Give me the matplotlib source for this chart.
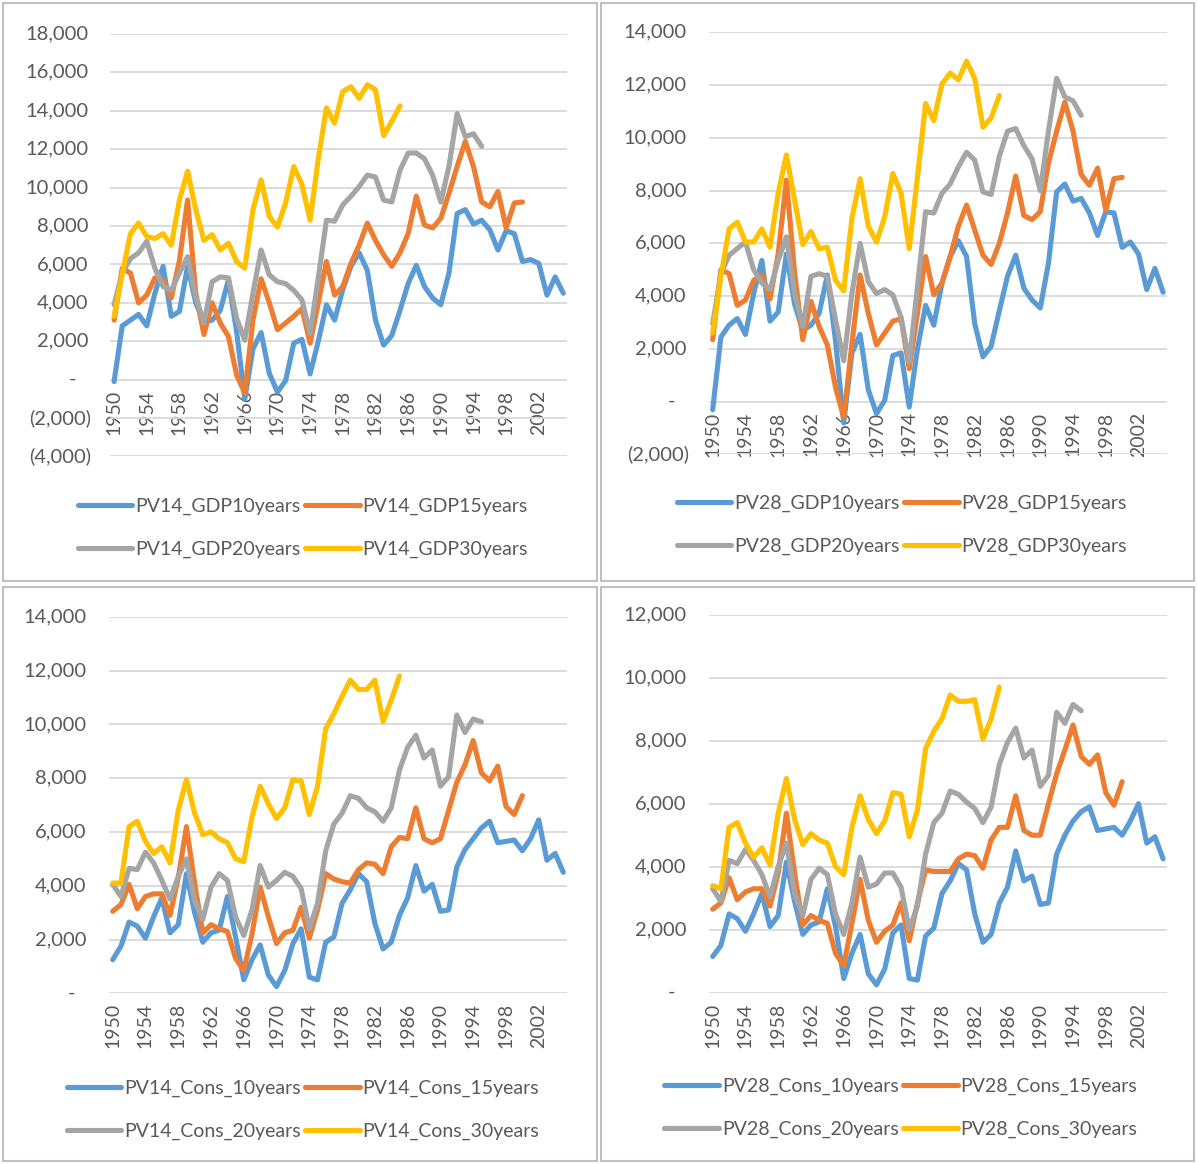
import matplotlib
matplotlib.use("Agg")
import matplotlib.pyplot as plt
import matplotlib.transforms as mtransforms
from matplotlib.patches import Rectangle

plt.rcParams['font.family'] = ['Lato', 'DejaVu Sans']

# years on the category axis
years = list(range(1950, 2006))
tick_years = list(range(1950, 2003, 4))

# ---- PV14 GDP ----
pv14_gdp_10 = [-100, 2800, 3100, 3400, 2800, 4500, 5900, 3300, 3550, 5900,
               4000, 3000, 3100, 3600, 5200, 2500, -1000, 1600, 2450, 330,
               -650, -50, 1900, 2100, 300, 2000, 3900, 3100, 4700, 5900,
               6600, 5700, 3100, 1800, 2300, 3600, 5000, 5950, 4850, 4250,
               3900, 5550, 8650, 8850, 8100, 8300, 7800, 6750, 7750, 7600,
               6150, 6250, 6050, 4400, 5350, 4500]
pv14_gdp_15 = [3100, 5800, 5550, 4000, 4400, 5300, 5200, 4250, 6200, 9350,
               4500, 2350, 4000, 2950, 2250, 250, -700, 3100, 5250, 4000,
               2600, 2950, 3300, 3700, 1900, 4000, 6150, 4400, 4850, 6050,
               7000, 8150, 7250, 6500, 5900, 6600, 7600, 9550, 8050, 7900,
               8400, 9700, 11100, 12400, 11100, 9250, 9000, 9800, 7900, 9200,
               9250]
pv14_gdp_20 = [3900, 5550, 6300, 6600, 7200, 5800, 4850, 4650, 5550, 6400,
               4300, 2950, 5100, 5350, 5300, 3200, 2050, 4500, 6750, 5450,
               5100, 5000, 4650, 4150, 2400, 5300, 8300, 8250, 9100, 9550,
               10050, 10650, 10550, 9350, 9250, 10900, 11800, 11800, 11500, 10650,
               9250, 11100, 13850, 12650, 12800, 12150]
pv14_gdp_30 = [3300, 5500, 7600, 8150, 7450, 7350, 7600, 7000, 9350, 10850,
               8850, 7250, 7550, 6750, 7100, 6150, 5800, 8850, 10400, 8500,
               7950, 9200, 11100, 10150, 8300, 11500, 14150, 13350, 15000, 15250,
               14650, 15350, 15100, 12700, 13450, 14250]

# ---- PV28 GDP ----
pv28_gdp_10 = [-300, 2450, 2900, 3150, 2550, 4100, 5350, 3050, 3400, 5600,
               3700, 2700, 2900, 3350, 4800, 2300, -800, 1850, 2550, 450,
               -450, 50, 1750, 1850, -200, 2000, 3650, 2900, 4500, 5500,
               6100, 5500, 2950, 1700, 2100, 3450, 4750, 5550, 4300, 3850,
               3550, 5250, 7950, 8250, 7600, 7700, 7150, 6300, 7200, 7150,
               5850, 6050, 5600, 4250, 5050, 4150]
pv28_gdp_15 = [2350, 5000, 4850, 3650, 3850, 4600, 4800, 3900, 5600, 8400,
               4900, 2350, 3800, 2850, 2150, 550, -600, 2200, 4800, 3350,
               2150, 2600, 3050, 3150, 1250, 3350, 5500, 4050, 4500, 5500,
               6650, 7450, 6500, 5550, 5200, 6000, 7150, 8550, 7050, 6900,
               7200, 9050, 10250, 11350, 10250, 8600, 8200, 8850, 7250, 8450,
               8500]
pv28_gdp_20 = [2950, 4850, 5550, 5800, 6050, 5000, 4500, 4250, 5350, 6250,
               4100, 2850, 4750, 4850, 4750, 3100, 1550, 4100, 6000, 4550,
               4100, 4250, 4050, 3200, 1500, 4350, 7200, 7150, 7900, 8250,
               8900, 9450, 9150, 7950, 7850, 9300, 10250, 10350, 9700, 9200,
               8000, 10250, 12250, 11550, 11400, 10850]
pv28_gdp_30 = [2600, 4750, 6550, 6800, 6050, 6050, 6550, 5850, 7900, 9350,
               7650, 5950, 6450, 5800, 5850, 4600, 4200, 6950, 8450, 6650,
               6050, 7000, 8650, 7900, 5800, 8500, 11300, 10650, 12050, 12450,
               12200, 12900, 12250, 10400, 10750, 11600]

# ---- PV14 Cons ----
pv14_cons_10 = [1250, 1750, 2650, 2500, 2050, 2850, 3550, 2250, 2550, 4450,
                3000, 1900, 2250, 2350, 3600, 2100, 500, 1250, 1800, 680,
                250, 850, 1850, 2400, 600, 500, 1900, 2100, 3350, 3850,
                4450, 4150, 2600, 1650, 1900, 2900, 3550, 4750, 3800, 4050,
                3050, 3100, 4700, 5350, 5750, 6150, 6400, 5600, 5650, 5700,
                5300, 5750, 6450, 4950, 5200, 4500]
pv14_cons_15 = [3050, 3300, 4050, 3150, 3600, 3700, 3700, 2900, 4300, 6200,
                4100, 2250, 2550, 2400, 2300, 1300, 850, 2200, 3950, 2850,
                1850, 2250, 2350, 3200, 2050, 3100, 4450, 4250, 4150, 4100,
                4600, 4850, 4800, 4450, 5450, 5800, 5750, 6900, 5750, 5600,
                5750, 6800, 7850, 8500, 9400, 8200, 7900, 8450, 6950, 6650,
                7350]
pv14_cons_20 = [4050, 3600, 4650, 4600, 5250, 4850, 4200, 3500, 4350, 5000,
                3450, 2750, 3950, 4450, 4200, 2850, 2150, 3100, 4750, 3950,
                4200, 4500, 4350, 3900, 2400, 3350, 5300, 6300, 6700, 7350,
                7250, 6900, 6750, 6400, 6900, 8300, 9150, 9600, 8750, 9050,
                7700, 8050, 10350, 9700, 10200, 10100]
pv14_cons_30 = [4100, 4100, 6200, 6400, 5650, 5200, 5450, 4850, 6800, 7950,
                6700, 5900, 6000, 5750, 5600, 5000, 4900, 6550, 7700, 7050,
                6500, 6900, 7950, 7900, 6650, 7700, 9850, 10400, 11050, 11650,
                11300, 11300, 11650, 10100, 10900, 11800]

# ---- PV28 Cons ----
pv28_cons_10 = [1150, 1500, 2500, 2350, 1950, 2500, 3150, 2100, 2450, 4150,
                2900, 1850, 2150, 2250, 3300, 2100, 450, 1250, 1850, 600,
                250, 750, 1900, 2150, 450, 400, 1800, 2050, 3150, 3550,
                4100, 3900, 2500, 1600, 1850, 2850, 3350, 4500, 3550, 3700,
                2800, 2850, 4400, 5000, 5450, 5750, 5900, 5150, 5200, 5250,
                5000, 5450, 6000, 4750, 4950, 4250]
pv28_cons_15 = [2650, 2850, 3650, 2950, 3200, 3300, 3300, 2750, 3800, 5700,
                3800, 2150, 2450, 2300, 2200, 1250, 850, 2200, 3600, 2300,
                1600, 1950, 2150, 2850, 1650, 2850, 3900, 3850, 3850, 3850,
                4250, 4400, 4350, 3950, 4850, 5250, 5250, 6250, 5150, 5000,
                5000, 6000, 6950, 7700, 8500, 7500, 7250, 7550, 6350, 5950,
                6700]
pv28_cons_20 = [3300, 2900, 4200, 4100, 4550, 4200, 3750, 3050, 4000, 4750,
                3150, 2450, 3600, 3950, 3750, 2500, 1850, 2850, 4300, 3350,
                3450, 3800, 3800, 3350, 2000, 2750, 4400, 5400, 5700, 6400,
                6300, 6050, 5850, 5400, 5900, 7250, 7950, 8400, 7450, 7700,
                6550, 6900, 8900, 8550, 9150, 8950]
pv28_cons_30 = [3400, 3300, 5250, 5400, 4750, 4300, 4600, 4050, 5700, 6800,
                5500, 4700, 5050, 4850, 4750, 4000, 3750, 5250, 6250, 5500,
                5050, 5450, 6350, 6300, 4950, 5800, 7750, 8300, 8700, 9450,
                9250, 9250, 9300, 8050, 8700, 9700]

colors = ['#5B9BD5', '#ED7D31', '#A5A5A5', '#FFC000']
suffixes = ['10years', '15years', '20years', '30years']
text_col = '#595959'
grid_col = '#D9D9D9'

W, H = 1197, 1164
fig = plt.figure(figsize=(W / 100, H / 100), dpi=100)
fig.patch.set_facecolor('white')

# panel frames (pixels: x0, y0, x1, y1)
for x0, y0, x1, y1 in [(3, 3, 597, 581), (601, 3, 1194, 581),
                       (3, 587, 597, 1161), (601, 587, 1194, 1161)]:
    fig.patches.append(Rectangle((x0 / W, 1 - y1 / H), (x1 - x0) / W, (y1 - y0) / H,
                                 transform=fig.transFigure, fill=False,
                                 ec='#C0C0C0', lw=1.5))


def fmt(v):
    if v > 0:
        return f"{v:,}"
    if v < 0:
        return f"({-v:,})"
    return "-"


def panel(box, ylim, series, prefix, leg_xy, sep):
    l, t, r, b = box
    ax = fig.add_axes([l / W, 1 - b / H, (r - l) / W, (b - t) / H])
    x = list(range(len(years)))
    lines = []
    for vals, c, suf in zip(series, colors, suffixes):
        ln, = ax.plot(x[:len(vals)], vals, color=c, lw=3.7,
                      solid_capstyle='round', solid_joinstyle='round',
                      label=prefix + sep + suf)
        lines.append(ln)
    ax.set_xlim(-0.5, len(years) - 0.5)
    ax.set_ylim(*ylim)
    yt = list(range(ylim[0], ylim[1] + 1, 2000))
    ax.set_yticks(yt)
    ax.yaxis.grid(True, color=grid_col, lw=1.3)
    ax.set_axisbelow(True)
    for s in ax.spines.values():
        s.set_visible(False)
    ax.spines['bottom'].set_position(('data', 0))
    ax.set_xticks([y - 1950 for y in tick_years])
    ax.set_xticklabels([str(y) for y in tick_years], rotation=90)
    ax.tick_params(axis='x', length=0, pad=7, labelsize=14, labelcolor=text_col)
    ax.tick_params(axis='y', length=0, labelleft=False)
    # accounting style y labels
    base = mtransforms.blended_transform_factory(ax.transAxes, ax.transData)
    for v in yt:
        if v > 0:
            dx, ha = -22, 'right'
        elif v < 0:
            dx, ha = -19, 'right'
        else:
            dx, ha = -37, 'center'
        tr = mtransforms.offset_copy(base, fig=fig, x=dx, y=0, units='dots')
        ax.text(0, v, fmt(v), transform=tr, ha=ha, va='center',
                fontsize=14.5, color=text_col)
    order = [lines[0], lines[2], lines[1], lines[3]]
    ax.legend(handles=order, ncol=2, loc='center',
              bbox_to_anchor=(leg_xy[0] / W, 1 - leg_xy[1] / H),
              bbox_transform=fig.transFigure, frameon=False,
              fontsize=14, labelcolor=text_col, handlelength=2.8,
              handletextpad=0.15, columnspacing=0.25, labelspacing=1.3,
              borderpad=0)
    return ax


panel((110, 33.9, 567.4, 456.5), (-4000, 18000),
      [pv14_gdp_10, pv14_gdp_15, pv14_gdp_20, pv14_gdp_30], 'PV14', (303, 528), '_GDP')
panel((708.6, 32.2, 1167.2, 454.5), (-2000, 14000),
      [pv28_gdp_10, pv28_gdp_15, pv28_gdp_20, pv28_gdp_30], 'PV28', (902, 525), '_GDP')
panel((108.6, 616.9, 567.4, 993.3), (0, 14000),
      [pv14_cons_10, pv14_cons_15, pv14_cons_20, pv14_cons_30], 'PV14', (303, 1110), '_Cons_')
panel((708.6, 614.7, 1167.2, 992.7), (0, 12000),
      [pv28_cons_10, pv28_cons_15, pv28_cons_20, pv28_cons_30], 'PV28', (901, 1108), '_Cons_')

fig.savefig('out.png', dpi=100, facecolor='white')
